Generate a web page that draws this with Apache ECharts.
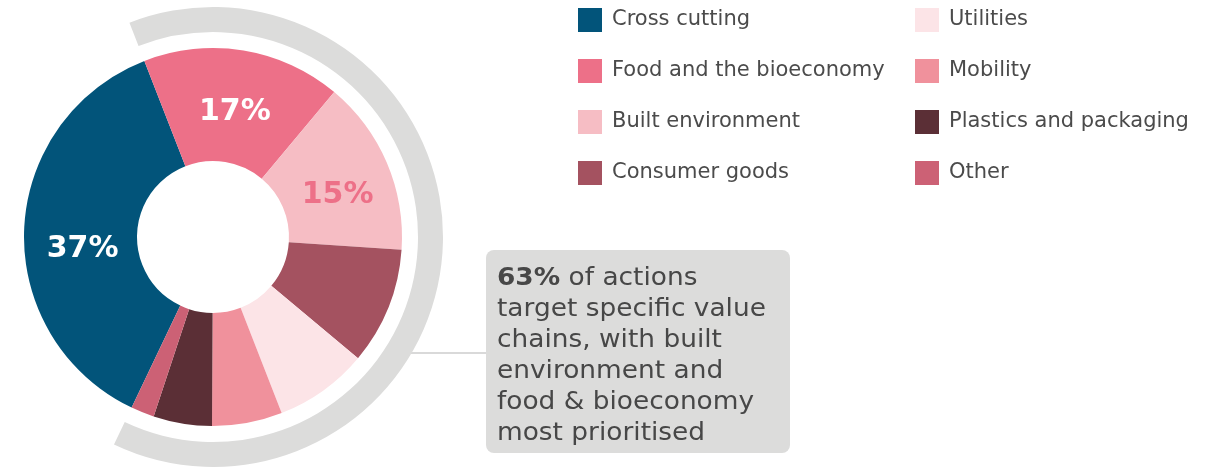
<!DOCTYPE html>
<html>
<head>
<meta charset="utf-8">
<script src="https://cdn.jsdelivr.net/npm/echarts@6/dist/echarts.min.js"></script>
<style>
  html, body { margin: 0; padding: 0; background: #fff; }
  #chart { width: 1220px; height: 473px; }
</style>
</head>
<body>
<div id="chart"></div>
<script>
// categories, shares (%), slice colours
var categories = ['Cross cutting', 'Food and the bioeconomy', 'Built environment', 'Consumer goods',
                  'Utilities', 'Mobility', 'Plastics and packaging', 'Other'];
var shares = [37, 17, 15, 10, 8, 6, 5, 2];
var colors = ['#02547a', '#ed7088', '#f6bdc4', '#a45260', '#fce4e7', '#f0919c', '#5b2f36', '#cc6175'];
// only the three biggest slices carry a label
var labelShown = [true, true, true, false, false, false, false, false];
var labelColors = ['#fff', '#fff', '#ed7088'];

// outer grey arc: share targeting specific value chains vs rest
var arcValues = [63, 37];

var pieData = categories.map(function (name, i) {
  return {
    name: name,
    value: shares[i],
    itemStyle: { color: colors[i] },
    label: { show: labelShown[i], color: labelColors[i] || '#fff' }
  };
});

var center = [213, 237];
// start so that "Cross cutting" ends where food starts (~111deg)
var startAngle = 111.3 + shares[0] * 3.6;

// nudge the inside labels a bit, like the original
var labelNudge = [[5, 17], [0, 9], [0, 11]];

var legendText = { fontFamily: 'DejaVu Sans', fontSize: 21, color: '#4b4b4b', padding: [4, 0, 0, 5] };

var chart = echarts.init(document.getElementById('chart'));
chart.setOption({
  animation: false,
  legend: [
    {
      orient: 'vertical', left: 578, top: 8, padding: 0,
      data: categories.slice(0, 4),
      icon: 'rect', itemWidth: 24, itemHeight: 24, itemGap: 27,
      selectedMode: false,
      textStyle: legendText
    },
    {
      orient: 'vertical', left: 915, top: 8, padding: 0,
      data: categories.slice(4),
      icon: 'rect', itemWidth: 24, itemHeight: 24, itemGap: 27,
      selectedMode: false,
      textStyle: legendText
    }
  ],
  series: [
    {
      type: 'pie',
      center: center,
      radius: [76, 189],
      startAngle: startAngle,
      clockwise: true,
      silent: true,
      label: {
        position: 'inside',
        formatter: '{c}%',
        fontFamily: 'DejaVu Sans',
        fontWeight: 'bold',
        fontSize: 30
      },
      labelLayout: function (p) {
        var n = labelNudge[p.dataIndex] || [0, 0];
        return { dx: n[0], dy: n[1] };
      },
      labelLine: { show: false },
      data: pieData
    },
    {
      type: 'pie',
      center: center,
      radius: [205, 230],
      startAngle: 111.3,
      clockwise: true,
      silent: true,
      label: { show: false },
      labelLine: { show: false },
      data: [
        { value: arcValues[0], itemStyle: { color: '#dcdcdb' } },
        { value: arcValues[1], itemStyle: { color: 'rgba(0,0,0,0)' } }
      ]
    }
  ],
  graphic: [
    {
      type: 'line',
      shape: { x1: 410, y1: 353, x2: 487, y2: 353 },
      style: { stroke: '#d9d9d9', lineWidth: 2 }
    },
    {
      type: 'rect',
      shape: { x: 486, y: 250, width: 304, height: 203, r: 8 },
      style: { fill: '#dcdcdb' }
    },
    {
      type: 'text',
      x: 497, y: 263,
      scaleX: 1.1,
      style: {
        text: '{b|63%} of actions\ntarget specific value\nchains, with built\nenvironment and\nfood & bioeconomy\nmost prioritised',
        fontFamily: 'DejaVu Sans',
        fontSize: 24,
        lineHeight: 31,
        fill: '#474747',
        rich: {
          b: { fontFamily: 'DejaVu Sans', fontWeight: 'bold', fontSize: 24, lineHeight: 31, fill: '#474747' }
        }
      }
    }
  ]
});
</script>
</body>
</html>
